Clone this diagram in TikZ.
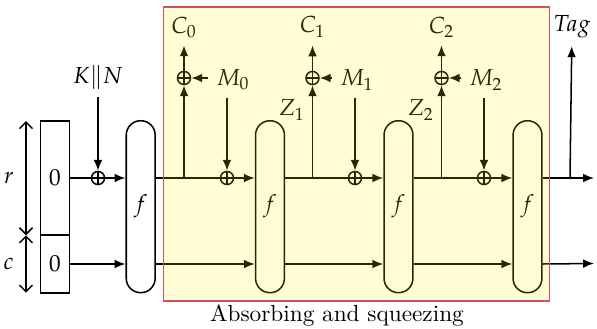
\documentclass[tikz,border=0pt]{standalone}
\usepackage{mathpazo}
\usetikzlibrary{arrows.meta, positioning}
\definecolor{spongered}{RGB}{210,80,100}

\begin{document}
\begin{tikzpicture}[
  x=0.46pt, y=-0.46pt, line width=0.7pt,
  font=\fontsize{10.7pt}{13pt}\selectfont,
  fbox/.style={draw, fill=white, rounded corners=6.6pt, minimum width=13.3pt, minimum height=79.1pt, inner sep=0pt},
  regbox/.style={draw, minimum width=13.2pt, inner sep=0pt},
  xorop/.style={circle, draw, fill=white, minimum size=6pt, inner sep=0pt,
    path picture={\draw (path picture bounding box.north) -- (path picture bounding box.south)
                        (path picture bounding box.west) -- (path picture bounding box.east);}},
  arr/.style={-{Latex[length=5pt, width=4pt]}},
  dim/.style={{Straight Barb[length=3pt, width=6pt]}-{Straight Barb[length=3pt, width=6pt]}}
]
  \useasboundingbox (0,0) rectangle (597,328);

  % state: rate and capacity parts
  \node[regbox, minimum height=52.6pt] (rpart) at (55,178) {$0$};
  \node[regbox, minimum height=26.5pt] (cpart) at (55,264) {$0$};
  \coordinate (rtop) at (26,121);
  \coordinate (rc) at (26,235.3);
  \coordinate (cbot) at (26,292.7);
  \draw[dim] (rtop) -- node[left=2pt] {$r$} (rc);
  \draw[dim] (rc) -- node[left=2pt] {$c$} (cbot);

  % initialisation
  \node (kn) at (98,77) {$K\|N$};
  \node[xorop] (xin) at (98,178) {};
  \node[fbox] (f0) at (140.7,206.7) {$f$};
  \draw[arr] (kn) -- (xin);
  \draw (rpart.east |- xin) -- (xin);
  \draw[arr] (xin) -- (xin -| f0.west);
  \draw[arr] (cpart) -- (cpart -| f0.west);

  % permutation rounds
  \node[fbox] (f1) at (270,206.7) {$f$};
  \node[fbox] (f2) at (398.5,206.7) {$f$};
  \node[fbox] (f3) at (527.5,206.7) {$f$};

  % message injection and ciphertext output
  \node[xorop] (xm0) at (227,178) {};
  \node[xorop] (xm1) at (355,178) {};
  \node[xorop] (xm2) at (484,178) {};
  \node[xorop] (xc0) at (184,78) {};
  \node[xorop] (xc1) at (312.5,78) {};
  \node[xorop] (xc2) at (441.5,78) {};
  \coordinate (b0) at (184,178);
  \coordinate (b1) at (312.5,178);
  \coordinate (b2) at (441.5,178);
  \coordinate (b3) at (570,178);

  \node (c0) at (184,27) {$C_0$};
  \node (c1) at (312.5,27) {$C_1$};
  \node (c2) at (441.5,27) {$C_2$};
  \node (m0) at (233,80) {$M_0$};
  \node (m1) at (357,80) {$M_1$};
  \node (m2) at (486,80) {$M_2$};
  \node (z1) at (292,110) {$Z_1$};
  \node (z2) at (421,110) {$Z_2$};
  \node (tag) at (572,27) {$Tag$};

  \draw (f0.east |- b0) -- (xm0);
  \draw[arr] (xm0) -- (xm0 -| f1.west);
  \draw (f1.east |- b1) -- (xm1);
  \draw[arr] (xm1) -- (xm1 -| f2.west);
  \draw (f2.east |- b2) -- (xm2);
  \draw[arr] (xm2) -- (xm2 -| f3.west);
  \coordinate (topout) at (594,178);
  \draw[arr] (f3.east |- b3) -- (topout);

  \draw[arr] (b0) -- (xc0);
  \draw[arr] (b1) -- (xc1);
  \draw[arr] (b2) -- (xc2);
  \draw[arr] (xc0) -- (c0);
  \draw[arr] (xc1) -- (c1);
  \draw[arr] (xc2) -- (c2);
  \draw[arr] (b3) -- (tag);
  \draw[arr] (m0.west |- xc0) -- (xc0);
  \draw[arr] (m1.west |- xc1) -- (xc1);
  \draw[arr] (m2.west |- xc2) -- (xc2);
  \draw[arr] (m0.south -| xm0) -- (xm0);
  \draw[arr] (m1.south -| xm1) -- (xm1);
  \draw[arr] (m2.south -| xm2) -- (xm2);

  % capacity lane
  \coordinate (botout) at (594,263.5);
  \draw[arr] (f0.east |- cpart) -- (f1.west |- cpart);
  \draw[arr] (f1.east |- cpart) -- (f2.west |- cpart);
  \draw[arr] (f2.east |- cpart) -- (f3.west |- cpart);
  \draw[arr] (f3.east |- cpart) -- (botout);

  % phase frame
  \draw[draw=spongered, fill=yellow, fill opacity=0.17] (163.5,7) rectangle (549.5,301);
  \node (phase) at (337,316) {Absorbing and squeezing};
\end{tikzpicture}
\end{document}
